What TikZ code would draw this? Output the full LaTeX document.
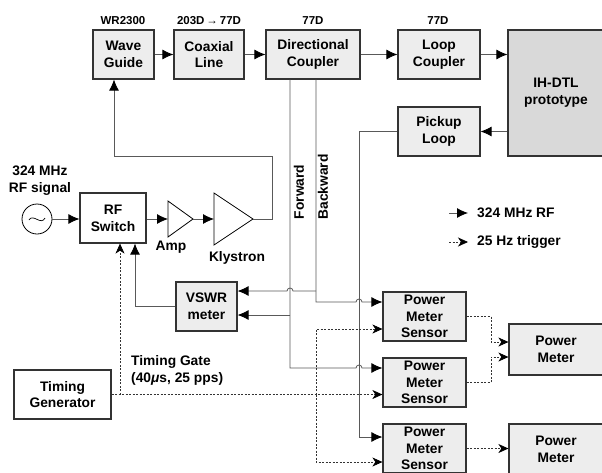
\documentclass[tikz,border=0pt]{standalone}
\usepackage{fontspec}
\setmainfont{Liberation Sans}
\usetikzlibrary{arrows.meta}
\newcommand\mainf{\fontsize{13.8}{16.8}\selectfont\bfseries}
\newcommand\smallf{\fontsize{11.5}{13}\selectfont\bfseries}
\begin{document}
\begin{tikzpicture}[x=1pt,y=-1pt,
  box/.style={draw=black!80, line width=1.2pt, fill=black!7, minimum height=49pt,
    inner sep=0pt, align=center, font=\mainf},
  rf/.style={draw=black!65, line width=0.8pt, -{Latex[length=11pt,width=10pt,color=black]}},
  trig/.style={draw=black!80, line width=0.7pt, dash pattern=on 2pt off 1.5pt,
    -{Stealth[length=10pt,width=9pt,inset=3pt,color=black]}},
  lbl/.style={inner sep=0pt, font=\mainf},
  slbl/.style={inner sep=0pt, font=\smallf},
  tri/.style={draw=black, line width=0.8pt, fill=white}]
\useasboundingbox (0,0) rectangle (602,472);

% boxes
\node[box, minimum width=61pt] (wg) at (123.5,54.5) {Wave\\Guide};
\node[box, minimum width=70pt] (coax) at (209,54.5) {Coaxial\\Line};
\node[box, minimum width=94pt] (dc) at (313,54.5) {Directional\\Coupler};
\node[box, minimum width=82pt] (lc) at (439,54.5) {Loop\\Coupler};
\node[box, fill=black!15, minimum width=96pt, minimum height=126pt] (ih) at (556,93) {IH-DTL\\prototype};
\node[box, minimum width=82pt] (pl) at (439,131.5) {Pickup\\Loop};
\node[box, fill=white, minimum width=66pt, minimum height=50pt] (rfs) at (113,218) {RF\\Switch};
\node[box, minimum width=61pt] (vswr) at (206.5,306.5) {VSWR\\meter};
\node[box, fill=white, minimum width=97pt] (tg) at (62.5,394.5) {Timing\\Generator};
\node[box, minimum width=83pt] (s1) at (424.5,316.5) {Power\\Meter\\Sensor};
\node[box, minimum width=83pt] (s2) at (424.5,382.5) {Power\\Meter\\Sensor};
\node[box, minimum width=83pt] (s3) at (424.5,448.5) {Power\\Meter\\Sensor};
\node[box, minimum width=94pt, minimum height=51pt] (pm1) at (556,349.5) {Power\\Meter};
\node[box, minimum width=94pt, minimum height=51pt] (pm2) at (556,449.5) {Power\\Meter};

% source
\node[circle, draw=black, line width=0.8pt, fill=white, minimum size=30pt, inner sep=0pt] (src) at (37,219) {};
\draw[line width=0.7pt] (29,220) .. controls (33,213) and (41,226) .. (45,218);

% amplifiers
\coordinate (ampL) at (168,219);
\coordinate (ampR) at (193,219);
\coordinate (klyL) at (214,219);
\coordinate (klyR) at (253,219);
\draw[tri] (168,201) -- (ampR) -- (168,237) -- cycle;
\draw[tri] (214,193) -- (klyR) -- (214,245) -- cycle;

% RF chain
\draw[rf] (src.east) -- (rfs.west|-src.east);
\draw[rf] (rfs.east|-ampL) -- (ampL);
\draw[rf] (ampR) -- (klyL);
\draw[rf] (klyR) -- (272,219) -- (272,156) -- (114,156) -- (wg.south -| 114,0);
\draw[rf] (wg.east) -- (coax.west);
\draw[rf] (coax.east) -- (dc.west);
\draw[rf] (dc.east) -- (lc.west);
\draw[rf] (lc.east) -- (ih.west|-lc.east);
\draw[rf] (ih.west|-pl.east) -- (pl.east);
\draw[rf] (pl.west) -- (359,131.5) -- (359,437) -- (s3.west|-0,437);

% forward
\draw[rf] (dc.south -| 290,0) -- (290,368) -- (356,368) arc[start angle=180,end angle=0,radius=3pt] -- (s2.west|-0,368);
\draw[rf] (290,315) -- (vswr.east|-0,315);
% backward
\draw[rf] (dc.south -| 316,0) -- (316,302) -- (356,302) arc[start angle=180,end angle=0,radius=3pt] -- (s1.west|-0,302);
\draw[rf] (316,291) -- (293,291) arc[start angle=0,end angle=180,radius=3pt] -- (vswr.east|-0,291);
% vswr to switch
\draw[rf] (vswr.west) -- (135,306.5) -- (rfs.south -| 135,0);

% trigger lines
\draw[trig] (tg.east) -- (s2.west|-tg.east);
\draw[trig] (120,394.5) -- (rfs.south -| 120,0);
\draw[trig] (316,394.5) -- (316,329) -- (s1.west|-0,329);
\draw[trig] (316,394.5) -- (316,462) -- (s3.west|-0,462);
\draw[trig] (s1.east) -- (491,316.5) -- (491,342) -- (pm1.west|-0,342);
\draw[trig] (s2.east) -- (491,382.5) -- (491,357) -- (pm1.west|-0,357);
\draw[trig] (s3.east) -- (pm2.west|-s3.east);

% labels
\node[slbl] (lwg) at (123,21) {WR2300};
\node[slbl] (lcoax) at (209,21) {203D\,→\,77D};
\node[slbl] (ldc) at (313,21) {77D};
\node[slbl] (llc) at (438,21) {77D};
\node[lbl, align=center] (lsrc) at (40,181) {324 MHz\\RF signal};
\node[lbl] (lamp) at (171,247) {Amp};
\node[lbl] (lkly) at (237,258) {Klystron};
\node[lbl, rotate=90] (lfwd) at (299,192) {Forward};
\node[lbl, rotate=90] (lbwd) at (323,187) {Backward};
\node[lbl, align=left, anchor=west] (ltg) at (131,370.5) {Timing Gate\\(40{\itshape μ}s, 25 pps)};

% legend
\coordinate (lg1a) at (449,213);
\coordinate (lg1b) at (468,213);
\coordinate (lg2a) at (449,242);
\coordinate (lg2b) at (468,242);
\draw[rf] (lg1a) -- (lg1b);
\draw[trig] (lg2a) -- (lg2b);
\node[lbl, anchor=west] (lgt1) at (477,213) {324 MHz RF};
\node[lbl, anchor=west] (lgt2) at (477,242) {25 Hz trigger};
\end{tikzpicture}
\end{document}
